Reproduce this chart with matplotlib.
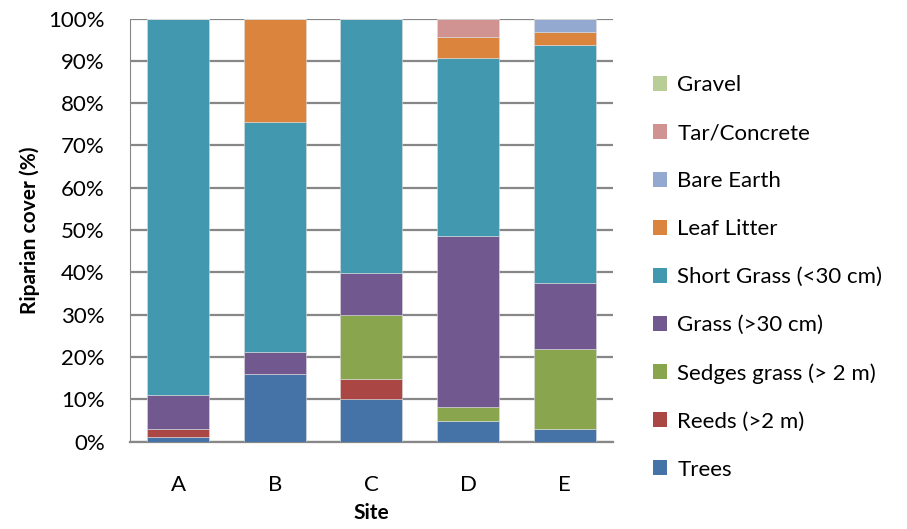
import matplotlib.pyplot as plt
from matplotlib.patches import Patch
import numpy as np

plt.rcParams['font.family'] = ['Lato', 'DejaVu Sans']

sites = ['A', 'B', 'C', 'D', 'E']

# riparian cover per site (%), bottom to top of the stack
trees = [1.1, 16.1, 10.0, 4.9, 3.1]
reeds = [1.9, 0.0, 4.9, 0.0, 0.0]
sedges = [0.0, 0.0, 15.0, 3.2, 18.8]
grass_tall = [8.1, 5.0, 10.0, 40.6, 15.5]
short_grass = [88.9, 54.5, 60.1, 41.9, 56.3]
leaf_litter = [0.0, 24.4, 0.0, 5.0, 3.2]
bare_earth = [0.0, 0.0, 0.0, 0.0, 3.1]
tar_concrete = [0.0, 0.0, 0.0, 4.4, 0.0]
gravel = [0.0, 0.0, 0.0, 0.0, 0.0]

series = [
    ('Trees', trees, '#4572A7'),
    ('Reeds (>2 m)', reeds, '#AA4643'),
    ('Sedges grass (> 2 m)', sedges, '#89A54E'),
    ('Grass (>30 cm)', grass_tall, '#71588F'),
    ('Short Grass (<30 cm)', short_grass, '#4198AF'),
    ('Leaf Litter', leaf_litter, '#DB843D'),
    ('Bare Earth', bare_earth, '#93A9CF'),
    ('Tar/Concrete', tar_concrete, '#D19392'),
    ('Gravel', gravel, '#B9CD96'),
]

fig = plt.figure(figsize=(9.07, 5.29), dpi=100)
ax = fig.add_axes([0.143, 0.165, 0.533, 0.8])

x = np.arange(len(sites))
bottom = np.zeros(len(sites))
for name, vals, col in series:
    vals = np.array(vals)
    ax.bar(x, vals, 0.64, bottom=bottom, color=col, edgecolor='#dcdcdc',
           linewidth=0.4, zorder=3)
    bottom += vals

ax.set_xlim(-0.5, len(sites) - 0.5)
ax.set_ylim(0, 100)
ax.set_yticks(np.arange(0, 101, 10))
ax.set_yticklabels(['%d%%' % v for v in range(0, 101, 10)], fontsize=16)
ax.set_xticks(x)
ax.set_xticklabels(sites, fontsize=16)
ax.tick_params(axis='y', length=0, pad=18)
ax.tick_params(axis='x', length=0, pad=24)

ax.grid(axis='y', color='#878787', linewidth=1.6, zorder=0)
for s in ['top', 'right']:
    ax.spines[s].set_visible(False)
ax.spines['left'].set_color('#878787')
ax.spines['bottom'].set_color('#878787')
ax.spines['bottom'].set_linewidth(1.6)

ax.set_xlabel('Site', fontsize=15, fontweight='bold', labelpad=6)
ax.set_ylabel('Riparian cover (%)', fontsize=15, fontweight='bold', labelpad=6)

handles = [Patch(facecolor=col, label=name) for name, vals, col in series[::-1]]
fig.legend(handles=handles, loc='upper left', bbox_to_anchor=(0.71, 0.875),
           frameon=False, fontsize=16, labelspacing=1.26, handlelength=0.65,
           handleheight=0.65, handletextpad=0.45, borderaxespad=0)

fig.savefig('out.png', dpi=100)
